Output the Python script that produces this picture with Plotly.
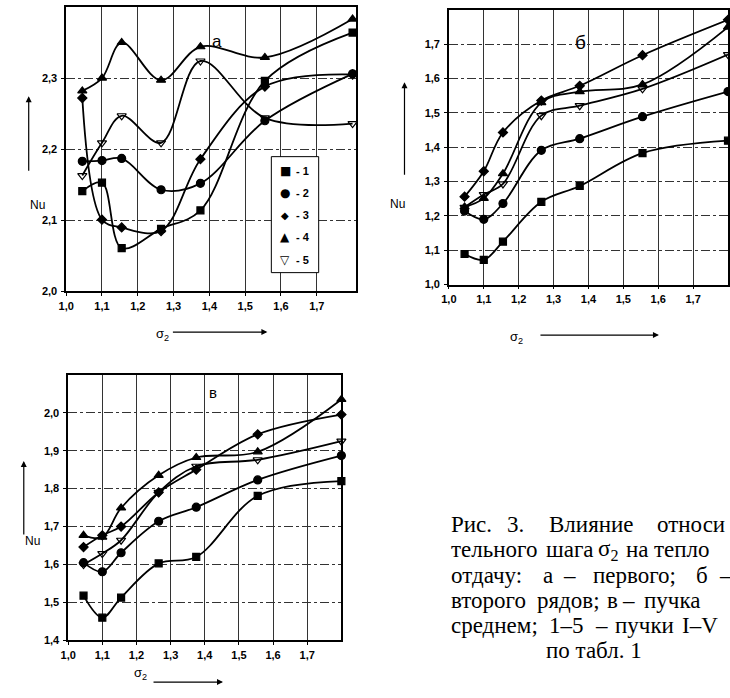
import plotly.graph_objects as go

# ---------------- data ----------------
sigma2 = [1.045, 1.1, 1.155, 1.265, 1.375, 1.555, 1.8]

# panel а (first row)
a_1 = [2.141, 2.153, 2.061, 2.088, 2.114, 2.296, 2.364]
a_2 = [2.183, 2.184, 2.187, 2.143, 2.152, 2.240, 2.306]
a_3 = [2.272, 2.101, 2.090, 2.085, 2.186, 2.288, 2.305]
a_4 = [2.282, 2.300, 2.350, 2.297, 2.344, 2.329, 2.383]
a_5 = [2.163, 2.209, 2.247, 2.209, 2.324, 2.244, 2.236]

# panel б (second row)
b_1 = [1.089, 1.072, 1.125, 1.241, 1.287, 1.383, 1.419]
b_2 = [1.214, 1.190, 1.236, 1.391, 1.425, 1.489, 1.562]
b_3 = [1.256, 1.330, 1.443, 1.536, 1.579, 1.668, 1.771]
b_4 = [1.226, 1.251, 1.323, 1.530, 1.562, 1.583, 1.750]
b_5 = [1.225, 1.262, 1.293, 1.492, 1.521, 1.570, 1.670]

# panel в (bundle average)
c_1 = [1.518, 1.460, 1.513, 1.603, 1.620, 1.781, 1.820]
c_2 = [1.605, 1.581, 1.631, 1.714, 1.751, 1.823, 1.887]
c_3 = [1.646, 1.677, 1.700, 1.790, 1.850, 1.943, 1.995]
c_4 = [1.677, 1.672, 1.749, 1.835, 1.882, 1.897, 2.035]
c_5 = [1.600, 1.629, 1.664, 1.790, 1.859, 1.876, 1.925]

series_names = ["- 1", "- 2", "- 3", "- 4", "- 5"]
legend_glyphs = ["■", "●", "◆", "▲", "▽"]
x_ticks = [1.0, 1.1, 1.2, 1.3, 1.4, 1.5, 1.6, 1.7]
x_ticktext = ["1,0", "1,1", "1,2", "1,3", "1,4", "1,5", "1,6", "1,7"]
a_ticks = [2.0, 2.1, 2.2, 2.3]
a_ticktext = ["2,0", "2,1", "2,2", "2,3"]
b_ticks = [1.0, 1.1, 1.2, 1.3, 1.4, 1.5, 1.6, 1.7]
b_ticktext = ["1,0", "1,1", "1,2", "1,3", "1,4", "1,5", "1,6", "1,7"]
c_ticks = [1.4, 1.5, 1.6, 1.7, 1.8, 1.9, 2.0]
c_ticktext = ["1,4", "1,5", "1,6", "1,7", "1,8", "1,9", "2,0"]

caption_lines = [
    [("Рис.", 448), ("3.", 505), ("Влияние", 548), ("относи", 657)],
    [("тельного", 448), ("шага", 544), ("σ<sub>2</sub>", 597), ("на", 626), ("тепло", 654)],
    [("отдачу:", 448), ("а", 541), ("–", 562), ("первого;", 592), ("б", 697), ("–", 720)],
    [("второго", 448), ("рядов;", 535), ("в", 606), ("–", 622), ("пучка", 644)],
    [("среднем;", 448), ("1–5", 547), ("–", 594), ("пучки", 614), ("I–V", 682)],
]
caption_last = "по табл. 1"

# ---------------- figure ----------------
W, H = 730, 698
symbols = ["square", "circle", "diamond", "triangle-up", "triangle-down-open"]
msizes = [7, 8, 7, 8, 8]

fig = go.Figure()

panels = [
    ("x", "y", [a_1, a_2, a_3, a_4, a_5]),
    ("x2", "y2", [b_1, b_2, b_3, b_4, b_5]),
    ("x3", "y3", [c_1, c_2, c_3, c_4, c_5]),
]
for xa, ya, ser in panels:
    for i, yv in enumerate(ser):
        fig.add_trace(go.Scatter(
            x=sigma2, y=yv, xaxis=xa, yaxis=ya, mode="lines+markers",
            name=series_names[i],
            line=dict(color="black", width=1.8, shape="spline", smoothing=1.0),
            marker=dict(symbol=symbols[i], size=msizes[i], color="black",
                        line=dict(color="black", width=1.2)),
            showlegend=False, cliponaxis=False,
        ))


def px_x(p):
    return p / W


def px_y(p):
    return 1 - p / H


tickfont = dict(family="Liberation Sans, Arial", size=11, color="black", weight="bold")


def xaxis(domain, rng, anchor):
    return dict(domain=domain, range=rng, anchor=anchor,
                tickvals=x_ticks, ticktext=x_ticktext, tickfont=tickfont,
                ticks="outside", ticklen=3, tickcolor="black",
                showgrid=True, gridcolor="#333", gridwidth=1, griddash="solid",
                showline=True, linecolor="black", linewidth=1.5, mirror=True,
                zeroline=False, ticklabelstandoff=1)


def yaxis(domain, rng, anchor, tv, tt):
    return dict(domain=domain, range=rng, anchor=anchor,
                tickvals=tv, ticktext=tt, tickfont=tickfont,
                ticks="outside", ticklen=3, tickcolor="black",
                showgrid=True, gridcolor="#333", gridwidth=1, griddash="dashdot",
                showline=True, linecolor="black", linewidth=1.5, mirror=True,
                zeroline=False, ticklabelstandoff=2)


fig.update_layout(
    width=W, height=H, margin=dict(l=0, r=0, t=0, b=0),
    paper_bgcolor="white", plot_bgcolor="white",
    xaxis=xaxis([px_x(59), px_x(353)], [1.0, 1.81], "y"),
    yaxis=yaxis([px_y(294), px_y(7)], [2.0, 2.4], "x", a_ticks, a_ticktext),
    xaxis2=xaxis([px_x(447), 1.0], [1.0, 1.8], "y2"),
    yaxis2=yaxis([px_y(287), px_y(10)], [1.0, 1.8], "x2", b_ticks, b_ticktext),
    xaxis3=xaxis([px_x(61), px_x(338)], [1.0, 1.8], "y3"),
    yaxis3=yaxis([px_y(646), px_y(378)], [1.4, 2.1], "x3", c_ticks, c_ticktext),
    showlegend=False,
)

# legend box of panel а
fig.add_shape(type="rect", xref="paper", yref="paper",
              x0=px_x(267), x1=px_x(315), y0=px_y(275), y1=px_y(158),
              line=dict(color="black", width=1), fillcolor="white", layer="above")

ann = []
leg_font = dict(family="Liberation Sans, Arial", size=11, color="black", weight="bold")
for i, (g, nm) in enumerate(zip(legend_glyphs, series_names)):
    yy = 172 + i * 22.5
    ann.append(dict(x=px_x(281), y=px_y(yy), xref="paper", yref="paper", text=g,
                    xanchor="center", yanchor="middle", showarrow=False,
                    font=dict(family="DejaVu Sans", size=12 if i != 2 else 10, color="black")))
    ann.append(dict(x=px_x(290), y=px_y(yy), xref="paper", yref="paper", text=nm,
                    xanchor="left", yanchor="middle", showarrow=False, font=leg_font))

axfont = dict(family="Liberation Sans, Arial", size=12, color="black")
# Nu labels with up arrows
for (tx, ty, axx, y_tail, y_head) in [(20, 198, 21, 173, 97), (395, 197, 402, 177, 83), (15, 555, 16, 540, 465)]:
    ann.append(dict(x=px_x(tx), y=px_y(ty), xref="paper", yref="paper", text="Nu",
                    showarrow=False, font=axfont))
    ann.append(dict(x=px_x(axx), y=px_y(y_head), xref="paper", yref="paper", text="",
                    showarrow=True, ax=0, ay=y_tail - y_head, arrowhead=2, arrowsize=1,
                    arrowwidth=1.2, arrowcolor="black"))
# sigma2 labels with right arrows
for (tx, ty, x_tail, x_head, ay_) in [(148, 337, 167, 263, 335), (524, 340, 540, 660, 338), (126, 690, 147, 218, 688)]:
    ann.append(dict(x=px_x(tx), y=px_y(ty), xref="paper", yref="paper", text="σ<sub>2</sub>",
                    showarrow=False, font=dict(family="Liberation Sans, Arial", size=13, color="black")))
    ann.append(dict(x=px_x(x_head), y=px_y(ay_), xref="paper", yref="paper", text="",
                    showarrow=True, ax=x_tail - x_head, ay=0, arrowhead=2, arrowsize=1,
                    arrowwidth=1.2, arrowcolor="black"))
# panel letters
for (txt, tx, ty, sz) in [("а", 205, 30, 17), ("б", 588, 30, 19), ("в", 202, 396, 15)]:
    ann.append(dict(x=px_x(tx), y=px_y(ty), xref="paper", yref="paper", text=txt,
                    showarrow=False, font=dict(family="Liberation Sans, Arial", size=sz, color="black")))
# caption
cap_font = dict(family="Liberation Serif, Times New Roman", size=23, color="black")
for li, words in enumerate(caption_lines):
    yy = 529 + li * 25.5
    for (w, xx) in words:
        ann.append(dict(x=px_x(xx), y=px_y(yy), xref="paper", yref="paper", text=w,
                        xanchor="left", yanchor="middle", showarrow=False, font=cap_font,
                        borderpad=0))
ann.append(dict(x=px_x(594), y=px_y(656), xref="paper", yref="paper", text=caption_last,
                xanchor="center", yanchor="middle", showarrow=False, font=cap_font))

fig.update_layout(annotations=ann)
fig.write_html("out.html", config={"displayModeBar": False},
               post_script="document.body.style.margin='0';document.body.style.overflow='hidden';")
